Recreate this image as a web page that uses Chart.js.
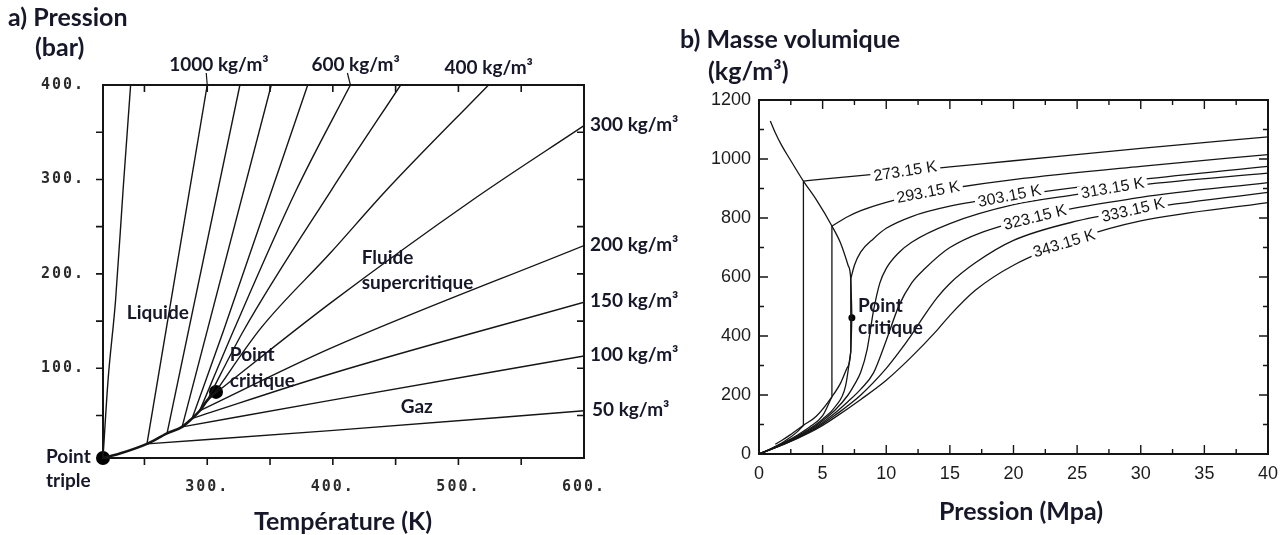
<!DOCTYPE html>
<html lang="fr">
<head>
<meta charset="utf-8">
<title>CO2 - isochores et isothermes</title>
<script src="https://cdn.jsdelivr.net/npm/chart.js@4.4.1/dist/chart.umd.min.js"></script>
<style>
  html, body { margin: 0; padding: 0; background: #fff; }
  #wrap { position: relative; width: 1288px; height: 535px; overflow: hidden; }
  #chartA { position: absolute; left: 0; top: 0; }
  #chartB { position: absolute; left: 680px; top: 0; }
</style>
</head>
<body>
<div id="wrap">
  <canvas id="chartA" width="680" height="535"></canvas>
  <canvas id="chartB" width="608" height="535"></canvas>
</div>
<script>
// ---------- a) Pression (bar) vs Température (K) : [T, P] ----------
const meltLine = [[217, 5], [221, 87], [227, 172], [233, 289], [239, 400]];
const satCurve = [[217, 5], [231, 10], [252, 20], [268, 31], [280, 38], [288, 47], [294, 55], [300, 66], [307, 75]];
const rho1000 = [[252, 20], [300, 400]];
const rho900 = [[268, 31], [326, 400]];
const rho800 = [[280, 38], [351, 400]];
const rho700 = [[288, 47], [313, 140], [380, 400]];
const rho600 = [[294, 55], [321, 140], [371, 289], [414, 400]];
const rho500 = [[300, 66], [329, 140], [399, 289], [454, 400]];
const rho400 = [[305, 72], [343, 143], [398, 222], [443, 289], [524, 400]];
const rho300 = [[303, 70], [398, 169], [511, 278], [600, 357]];
const rho200 = [[294, 55], [398, 121], [600, 230]];
const rho150 = [[288, 47], [398, 94], [600, 170]];
const rho100 = [[280, 38], [398, 66], [600, 113]];
const rho50 = [[252, 20], [398, 34], [600, 55]];
const triplePoint = [217, 5];
const criticalA = [307, 75];

const tempTickMarks = [250, 300, 350, 400, 450, 500, 550];
const tempTickLabels = [300, 400, 500, 600];
const presTickMarks = [50, 100, 150, 200, 250, 300, 350];
const presTickLabels = [100, 200, 300, 400];

// ---------- b) Masse volumique (kg/m3) vs Pression (MPa) : [P, rho] ----------
const domeLiquid = [[0.89, 1129], [1.28, 1089], [1.78, 1046], [2.42, 1000], [3.49, 925], [4.5, 862], [5.73, 773], [6.43, 713], [7.0, 640], [7.21, 593], [7.3, 465]];
const domeVapour = [[1.28, 33], [1.78, 46], [2.42, 64], [3.49, 97], [4.5, 128], [5.73, 194], [6.43, 242], [6.9, 290], [7.21, 346], [7.3, 465]];
const t273Vap = [[0, 0], [1, 19.5], [2, 43], [3, 75], [3.49, 97]];
const t273Liq = [[3.49, 925], [5, 932], [10, 952], [15, 973], [20, 994], [30, 1036], [40, 1075]];
const t293Vap = [[0, 0], [1, 18.6], [2, 39.5], [3, 63.5], [4, 92], [5, 130], [5.73, 194]];
const t293Liq = [[5.73, 773], [7, 805], [8, 825], [10, 853], [13, 885], [15, 900], [20, 930], [30, 975], [40, 1015]];
const t303Vap = [[0, 0], [1, 18], [2, 37.5], [3, 60], [4, 86], [5, 118], [6, 161], [6.8, 230], [7.21, 346]];
const t303Liq = [[7.21, 593], [7.5, 640], [8, 685], [9, 730], [10, 765], [12, 805], [15, 840], [20, 875], [30, 930], [40, 975]];
const t313 = [[0, 0], [1, 17.6], [2, 36.5], [3, 57.5], [4, 82], [5, 113], [6, 150], [7, 200], [7.5, 235], [8, 278], [8.5, 355], [9, 486], [9.5, 580], [10, 629], [11, 683], [12, 718], [15, 781], [20, 845], [25, 880], [30, 912], [40, 952]];
const t323 = [[0, 0], [1, 17], [2, 35], [3, 55], [4, 79], [5, 107], [6, 140], [7, 178], [8, 220], [9, 275], [10, 385], [11, 503], [12, 580], [13, 627], [15, 700], [20, 785], [30, 870], [40, 920]];
const t333 = [[0, 0], [2, 34], [4, 76], [5, 102], [6, 132], [8, 200], [10, 290], [11, 345], [12, 405], [13, 470], [14, 530], [15, 578], [17, 648], [20, 724], [25, 790], [30, 830], [40, 887]];
const t343 = [[0, 0], [2, 33], [4, 73], [5, 97], [6, 125], [8, 185], [10, 250], [12, 330], [14, 420], [15, 470], [17, 555], [20, 640], [25, 730], [30, 790], [40, 852]];
const criticalB = [7.3, 462];

const presTicksB = [2.5, 5, 7.5, 10, 12.5, 15, 17.5, 20, 22.5, 25, 27.5, 30, 32.5, 35, 37.5];
const presLabelsB = [0, 5, 10, 15, 20, 25, 30, 35, 40];
const rhoTicksB = [100, 200, 300, 400, 500, 600, 700, 800, 900, 1000, 1100];
const rhoLabelsB = [0, 200, 400, 600, 800, 1000, 1200];

const INK = '#151515';
const TEXT = '#17172a';
const LABEL_FONT = 'bold 19px Lato';
const TITLE_FONT = 'bold 25px Lato';
const ISO_FONT = '16px "Liberation Sans"';

function lineSet(points, width) {
  return {
    data: points.map(([x, y]) => ({ x, y })),
    showLine: true,
    pointRadius: 0,
    borderColor: INK,
    borderWidth: width || 1.4,
    cubicInterpolationMode: 'monotone',
    fill: false
  };
}

function dotSet(point, r) {
  return {
    data: [{ x: point[0], y: point[1] }],
    showLine: false,
    pointRadius: r,
    backgroundColor: '#000',
    borderWidth: 0,
    clip: false
  };
}

// texts for each canvas: either at a data point (at) or at canvas pixels (px, py)
const notesByCanvas = {
  chartA: [
    { text: 'a) Pression', px: 8, py: 18, font: TITLE_FONT },
    { text: '(bar)', px: 35, py: 48, font: TITLE_FONT },
    { text: 'Température (K)', px: 343, py: 522, align: 'center', font: TITLE_FONT },
    { text: '1000 kg/m³', at: rho1000.at(-1), dx: -38, dy: -20, leader: -1 },
    { text: '600 kg/m³', at: rho600.at(-1), dx: -39, dy: -20, leader: -3 },
    { text: '400 kg/m³', at: rho400.at(-1), dx: -44, dy: -17 },
    { text: '300 kg/m³', at: rho300.at(-1), dx: 6, dy: -1 },
    { text: '200 kg/m³', at: rho200.at(-1), dx: 6, dy: -1 },
    { text: '150 kg/m³', at: rho150.at(-1), dx: 6, dy: -1 },
    { text: '100 kg/m³', at: rho100.at(-1), dx: 6, dy: -1 },
    { text: '50 kg/m³', at: rho50.at(-1), dx: 8, dy: -1 },
    { text: 'Liquide', at: [236, 159] },
    { text: 'Fluide', at: [423, 217] },
    { text: 'supercritique', at: [423, 190] },
    { text: 'Point', at: [318, 114] },
    { text: 'critique', at: [318, 87] },
    { text: 'Gaz', at: [454, 59] },
    { text: 'Point', px: 46, py: 457 },
    { text: 'triple', px: 46, py: 481 }
  ],
  chartB: [
    { text: 'b) Masse volumique', px: 0, py: 40, font: TITLE_FONT },
    { text: '(kg/m³)', px: 28, py: 72, font: TITLE_FONT },
    { text: 'Pression (Mpa)', px: 341, py: 512, align: 'center', font: TITLE_FONT },
    { text: 'Point', at: [7.78, 502] },
    { text: 'critique', at: [7.78, 427] },
    { text: '273.15 K', at: [11.5, 957], angle: -9, bg: true, align: 'center', font: ISO_FONT, color: INK },
    { text: '293.15 K', at: [13.3, 886], angle: -11, bg: true, align: 'center', font: ISO_FONT, color: INK },
    { text: '303.15 K', at: [19.7, 873], angle: -11, bg: true, align: 'center', font: ISO_FONT, color: INK },
    { text: '313.15 K', at: [27.8, 900], angle: -10, bg: true, align: 'center', font: ISO_FONT, color: INK },
    { text: '323.15 K', at: [21.7, 800], angle: -14, bg: true, align: 'center', font: ISO_FONT, color: INK },
    { text: '333.15 K', at: [29.4, 825], angle: -13, bg: true, align: 'center', font: ISO_FONT, color: INK },
    { text: '343.15 K', at: [24.0, 712], angle: -17, bg: true, align: 'center', font: ISO_FONT, color: INK }
  ]
};

// box round the plot area, with ticks placed through the scales
const framesByCanvas = {
  chartA: { width: 2, tickWidth: 1.6, major: 7, minor: 7, bottomDir: 1, leftDir: -1,
            xTicks: tempTickMarks, xMajor: tempTickLabels, yTicks: presTickMarks, yMajor: presTickLabels },
  chartB: { width: 2, tickWidth: 1.4, major: 9, minor: 5, bottomDir: -1, leftDir: 1,
            xTicks: presTicksB, xMajor: presLabelsB, yTicks: rhoTicksB, yMajor: rhoLabelsB }
};

const frameTicks = {
  id: 'frameTicks',
  afterDatasetsDraw(chart) {
    const o = framesByCanvas[chart.canvas.id];
    const { ctx, chartArea: a, scales: { x, y } } = chart;
    ctx.save();
    ctx.strokeStyle = INK;
    ctx.lineWidth = o.width;
    ctx.strokeRect(a.left, a.top, a.right - a.left, a.bottom - a.top);
    ctx.lineWidth = o.tickWidth;
    ctx.beginPath();
    o.xTicks.forEach(v => {
      const px = x.getPixelForValue(v);
      const len = o.xMajor.includes(v) ? o.major : o.minor;
      ctx.moveTo(px, a.bottom);
      ctx.lineTo(px, a.bottom + o.bottomDir * len);
      ctx.moveTo(px, a.top);
      ctx.lineTo(px, a.top + len);
    });
    o.yTicks.forEach(v => {
      const py = y.getPixelForValue(v);
      const len = o.yMajor.includes(v) ? o.major : o.minor;
      ctx.moveTo(a.left, py);
      ctx.lineTo(a.left + o.leftDir * len, py);
      ctx.moveTo(a.right, py);
      ctx.lineTo(a.right - len, py);
    });
    ctx.stroke();
    ctx.restore();
  }
};

const notes = {
  id: 'notes',
  beforeDraw(chart) {
    // wide typewriter-like tick labels on panel a)
    chart.ctx.letterSpacing = chart.canvas.id === 'chartA' ? '2px' : '0px';
  },
  beforeDatasetsDraw(chart) {
    chart.ctx.letterSpacing = '0px';
  },
  afterDraw(chart) {
    const items = notesByCanvas[chart.canvas.id];
    const { ctx, scales: { x, y } } = chart;
    ctx.save();
    ctx.letterSpacing = '0px';
    items.forEach(n => {
      let px = n.at ? x.getPixelForValue(n.at[0]) : n.px;
      let py = n.at ? y.getPixelForValue(n.at[1]) : n.py;
      if (n.leader) {
        ctx.strokeStyle = INK;
        ctx.lineWidth = 1.2;
        ctx.beginPath();
        ctx.moveTo(px + n.leader, py - 12);
        ctx.lineTo(px, py);
        ctx.stroke();
      }
      px += n.dx || 0;
      py += n.dy || 0;
      ctx.save();
      ctx.translate(px, py);
      if (n.angle) ctx.rotate(n.angle * Math.PI / 180);
      ctx.font = n.font || LABEL_FONT;
      ctx.textAlign = n.align || 'left';
      ctx.textBaseline = 'middle';
      if (n.bg) {
        const w = ctx.measureText(n.text).width;
        ctx.fillStyle = '#fff';
        ctx.fillRect(-w / 2 - 3, -8, w + 6, 16);
      }
      ctx.fillStyle = n.color || TEXT;
      ctx.fillText(n.text, 0, 0);
      ctx.restore();
    });
    ctx.restore();
  }
};

Chart.register(frameTicks, notes);

// ---------- chart a) ----------
new Chart(document.getElementById('chartA'), {
  type: 'scatter',
  data: {
    datasets: [
      lineSet(meltLine),
      lineSet(satCurve, 2.6),
      lineSet(rho1000), lineSet(rho900), lineSet(rho800), lineSet(rho700),
      lineSet(rho600), lineSet(rho500), lineSet(rho400), lineSet(rho300),
      lineSet(rho200), lineSet(rho150), lineSet(rho100), lineSet(rho50),
      dotSet(triplePoint, 7),
      dotSet(criticalA, 7)
    ]
  },
  options: {
    responsive: false,
    animation: false,
    events: [],
    layout: { padding: { left: 0, top: 85, right: 96, bottom: 0 } },
    plugins: {
      legend: { display: false },
      tooltip: { enabled: false }
    },
    scales: {
      x: {
        type: 'linear', min: 217, max: 600,
        afterBuildTicks: s => { s.ticks = tempTickLabels.map(v => ({ value: v })); },
        afterFit: s => { s.height = 77; },
        grid: { display: false, drawTicks: false },
        border: { display: false },
        ticks: {
          autoSkip: false, maxRotation: 0, padding: 20, color: '#2b2b2b',
          font: { family: 'DejaVu Sans Mono', size: 15, weight: 'bold' },
          callback: v => v + '.'
        }
      },
      y: {
        type: 'linear', min: 5, max: 400,
        afterBuildTicks: s => { s.ticks = presTickLabels.map(v => ({ value: v })); },
        afterFit: s => { s.width = 103; },
        grid: { display: false, drawTicks: false },
        border: { display: false },
        ticks: {
          autoSkip: false, padding: 18, color: '#2b2b2b',
          font: { family: 'DejaVu Sans Mono', size: 15, weight: 'bold' },
          callback: v => v + '.'
        }
      }
    }
  }
});

// ---------- chart b) ----------
const tie273 = [t273Vap.at(-1), t273Liq[0]];
const tie293 = [t293Vap.at(-1), t293Liq[0]];
const tie303 = [t303Vap.at(-1), t303Liq[0]];

new Chart(document.getElementById('chartB'), {
  type: 'scatter',
  data: {
    datasets: [
      lineSet(domeLiquid, 1.3), lineSet(domeVapour, 1.3),
      lineSet(t273Vap, 1.3), lineSet(tie273, 1.3), lineSet(t273Liq, 1.3),
      lineSet(t293Vap, 1.3), lineSet(tie293, 1.3), lineSet(t293Liq, 1.3),
      lineSet(t303Vap, 1.3), lineSet(tie303, 1.3), lineSet(t303Liq, 1.3),
      lineSet(t313, 1.3), lineSet(t323, 1.3), lineSet(t333, 1.3), lineSet(t343, 1.3),
      dotSet(criticalB, 3.5)
    ]
  },
  options: {
    responsive: false,
    animation: false,
    events: [],
    layout: { padding: { left: 0, top: 100, right: 20, bottom: 0 } },
    plugins: {
      legend: { display: false },
      tooltip: { enabled: false }
    },
    scales: {
      x: {
        type: 'linear', min: 0, max: 40,
        afterBuildTicks: s => { s.ticks = presLabelsB.map(v => ({ value: v })); },
        afterFit: s => { s.height = 81; },
        grid: { display: false, drawTicks: false },
        border: { display: false },
        ticks: {
          autoSkip: false, maxRotation: 0, padding: 9, color: '#1c1c1c',
          font: { family: 'Liberation Sans', size: 18 },
          callback: v => String(v)
        }
      },
      y: {
        type: 'linear', min: 0, max: 1200,
        afterBuildTicks: s => { s.ticks = rhoLabelsB.map(v => ({ value: v })); },
        afterFit: s => { s.width = 79; },
        grid: { display: false, drawTicks: false },
        border: { display: false },
        ticks: {
          autoSkip: false, padding: 8, color: '#1c1c1c',
          font: { family: 'Liberation Sans', size: 18 },
          callback: v => String(v)
        }
      }
    }
  }
});
</script>
</body>
</html>
